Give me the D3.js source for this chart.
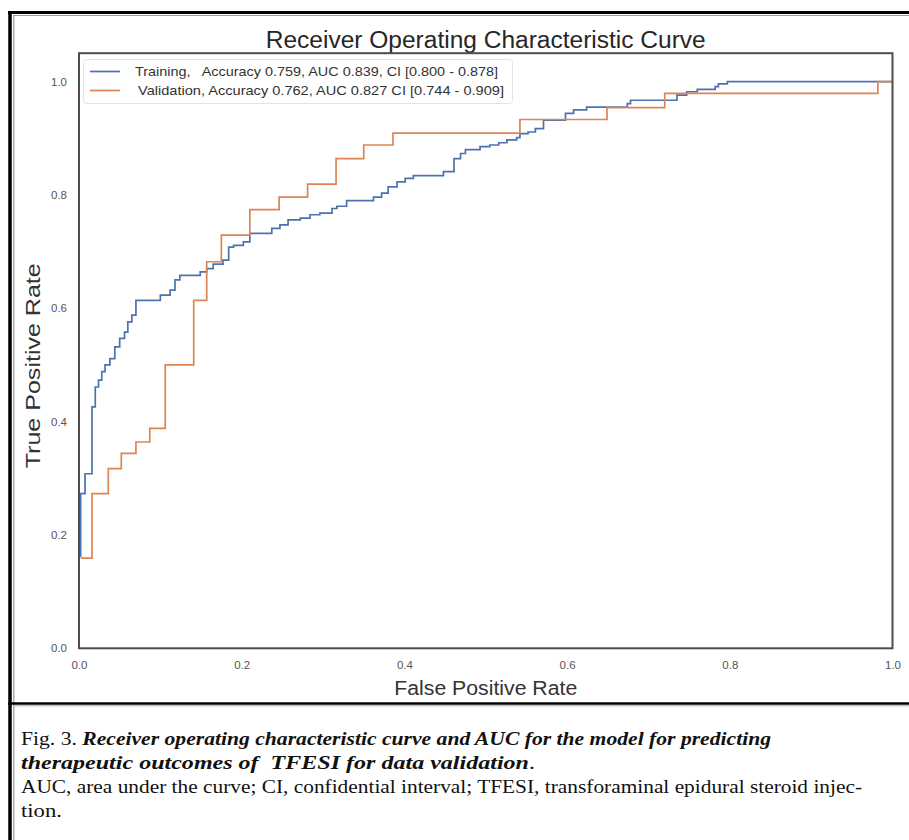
<!DOCTYPE html>
<html>
<head>
<meta charset="utf-8">
<script src="https://cdn.jsdelivr.net/npm/d3@7/dist/d3.min.js"></script>
<style>
  html, body { margin: 0; padding: 0; background: #fff; }
  svg { display: block; }
  text { white-space: pre; }
</style>
</head>
<body>
<svg id="chart" width="909" height="840"></svg>
<script>
// ---- Data ----
const titleText = "Receiver Operating Characteristic Curve";
const xLabel = "False Positive Rate";
const yLabel = "True Positive Rate";
const tickValues = [0, 0.2, 0.4, 0.6, 0.8, 1.0];
const tickLabels = ["0.0", "0.2", "0.4", "0.6", "0.8", "1.0"];
const seriesNames = [
  "Training,   Accuracy 0.759, AUC 0.839, CI [0.800 - 0.878]",
  "Validation, Accuracy 0.762, AUC 0.827 CI [0.744 - 0.909]"
];
// Training ROC: false positive rate / true positive rate (step corners)
const trainFPR = [0.002,0.002,0.0074,0.016,0.020,0.024,0.028,0.032,0.038,0.044,0.050,0.056,0.060,0.065,0.070,
  0.100,0.112,0.118,0.124,0.149,0.157,0.165,0.177,0.184,0.190,0.202,0.210,0.237,0.247,0.257,0.272,0.284,0.296,
  0.311,0.317,0.329,0.362,0.372,0.380,0.391,0.401,0.411,0.448,0.461,0.469,0.475,0.493,0.505,0.516,0.526,0.538,
  0.542,0.552,0.561,0.571,0.598,0.608,0.624,0.674,0.678,0.735,0.747,0.760,0.782,0.786,0.797,1.000];
const trainTPR = [0.161,0.273,0.308,0.426,0.461,0.473,0.488,0.500,0.511,0.532,0.547,0.558,0.576,0.588,0.614,
  0.623,0.632,0.650,0.658,0.664,0.670,0.678,0.685,0.708,0.711,0.717,0.732,0.741,0.747,0.756,0.759,0.765,0.768,
  0.776,0.780,0.790,0.796,0.803,0.814,0.823,0.829,0.834,0.841,0.864,0.873,0.880,0.885,0.888,0.892,0.897,0.901,
  0.908,0.911,0.917,0.932,0.944,0.950,0.955,0.961,0.967,0.976,0.982,0.986,0.991,0.996,1.000,1.000];
// Validation ROC
const validFPR = [0.002,0.016,0.036,0.052,0.070,0.087,0.106,0.141,0.157,0.175,0.210,0.246,0.281,0.316,0.350,
  0.386,0.542,0.649,0.720,0.982,1.000];
const validTPR = [0.159,0.273,0.317,0.344,0.364,0.388,0.500,0.614,0.682,0.729,0.774,0.796,0.819,0.864,0.888,
  0.909,0.933,0.954,0.979,1.000,1.000];
const seriesColors = ["#4c72b0", "#dd8452"];

const captionLines = [
  [{t: "Fig. 3. ", s: "normal", w: "normal"}, {t: "Receiver operating characteristic curve and AUC for the model for predicting", s: "italic", w: "bold"}],
  [{t: "therapeutic outcomes of  TFESI for data validation", s: "italic", w: "bold"}, {t: ".", s: "normal", w: "normal"}],
  [{t: "AUC, area under the curve; CI, confidential interval; TFESI, transforaminal epidural steroid injec-", s: "normal", w: "normal"}],
  [{t: "tion.", s: "normal", w: "normal"}]
];
const captionWidths = [750, 514, 841, 41];

// ---- Layout ----
const svg = d3.select("#chart");
const FONT = "Liberation Sans, Arial, sans-serif";
const plot = {left: 79, right: 892.5, top: 53.2, bottom: 648.3};
const x = d3.scaleLinear().domain([0, 1]).range([plot.left, plot.right]);
const y = d3.scaleLinear().domain([0, 1.05]).range([plot.bottom, plot.top]);

// outer figure frame
svg.append("line").attr("x1", 10).attr("x2", 10).attr("y1", 11).attr("y2", 840)
  .attr("stroke", "#000").attr("stroke-width", 3.5);
svg.append("line").attr("x1", 8).attr("x2", 909).attr("y1", 12.5).attr("y2", 12.5)
  .attr("stroke", "#000").attr("stroke-width", 3);
svg.append("line").attr("x1", 13.8).attr("x2", 13.8).attr("y1", 15).attr("y2", 840)
  .attr("stroke", "#999").attr("stroke-width", 1.2);
svg.append("line").attr("x1", 13.8).attr("x2", 909).attr("y1", 15.5).attr("y2", 15.5)
  .attr("stroke", "#999").attr("stroke-width", 1.2);
svg.append("line").attr("x1", 8).attr("x2", 909).attr("y1", 703.5).attr("y2", 703.5)
  .attr("stroke", "#000").attr("stroke-width", 2.4);
svg.append("line").attr("x1", 13.8).attr("x2", 909).attr("y1", 705.8).attr("y2", 705.8)
  .attr("stroke", "#aaa").attr("stroke-width", 1);

// title
svg.append("text").attr("x", (plot.left + plot.right) / 2).attr("y", 48)
  .attr("text-anchor", "middle").attr("font-family", FONT)
  .attr("font-size", 23).attr("fill", "#262626")
  .attr("textLength", 440).attr("lengthAdjust", "spacingAndGlyphs").text(titleText);

// axes
const xAxis = d3.axisBottom(x).tickValues(tickValues).tickFormat((d, i) => tickLabels[i]).tickSize(0).tickPadding(13);
const yAxis = d3.axisLeft(y).tickValues(tickValues).tickFormat((d, i) => tickLabels[i]).tickSize(0).tickPadding(12);
const gx = svg.append("g").attr("transform", `translate(0,${plot.bottom})`).call(xAxis);
const gy = svg.append("g").attr("transform", `translate(${plot.left},0)`).call(yAxis);
[gx, gy].forEach(g => {
  g.select(".domain").remove();
  g.selectAll("text").attr("font-family", FONT)
    .attr("font-size", 11.5).attr("fill", "#555");
});

// axis labels
svg.append("text").attr("x", (plot.left + plot.right) / 2).attr("y", 695)
  .attr("text-anchor", "middle").attr("font-family", FONT)
  .attr("font-size", 19.5).attr("fill", "#333")
  .attr("textLength", 183).attr("lengthAdjust", "spacingAndGlyphs").text(xLabel);
svg.append("text").attr("transform", `translate(40,${(plot.top + plot.bottom) / 2 + 15}) rotate(-90)`)
  .attr("text-anchor", "middle").attr("font-family", FONT)
  .attr("font-size", 19.5).attr("fill", "#333")
  .attr("textLength", 205).attr("lengthAdjust", "spacingAndGlyphs").text(yLabel);

// curves
const line = d3.line().x(d => x(d[0])).y(d => y(d[1])).curve(d3.curveStepAfter);
const trainPts = trainFPR.map((f, i) => [f, trainTPR[i]]);
const validPts = validFPR.map((f, i) => [f, validTPR[i]]);
svg.append("path").datum(trainPts).attr("d", line).attr("fill", "none")
  .attr("stroke", seriesColors[0]).attr("stroke-width", 1.7);
svg.append("path").datum(validPts).attr("d", line).attr("fill", "none")
  .attr("stroke", seriesColors[1]).attr("stroke-width", 1.7);

// frame
svg.append("rect").attr("x", plot.left).attr("y", plot.top)
  .attr("width", plot.right - plot.left).attr("height", plot.bottom - plot.top)
  .attr("fill", "none").attr("stroke", "#4d4d4d").attr("stroke-width", 2);

// legend
const legendTextLen = [363, 366];
const lg = svg.append("g");
lg.append("rect").attr("x", 83.5).attr("y", 59.5).attr("width", 429).attr("height", 44).attr("rx", 3)
  .attr("fill", "#fff").attr("fill-opacity", 0.85).attr("stroke", "#e4e4e4");
seriesNames.forEach((name, i) => {
  const yy = 71.5 + i * 19;
  lg.append("line").attr("x1", 90).attr("x2", 120).attr("y1", yy).attr("y2", yy)
    .attr("stroke", seriesColors[i]).attr("stroke-width", 1.7);
  lg.append("text").attr("x", i === 0 ? 135 : 138).attr("y", yy + 4.8)
    .attr("font-family", FONT).attr("font-size", 13.5)
    .attr("textLength", legendTextLen[i]).attr("lengthAdjust", "spacingAndGlyphs")
    .attr("fill", "#333").text(name);
});

// caption
const capY = [745, 769, 793, 817];
captionLines.forEach((parts, i) => {
  const t = svg.append("text").attr("x", 21).attr("y", capY[i])
    .attr("font-family", "Liberation Serif, Times New Roman, serif").attr("font-size", 19.5)
    .attr("fill", "#111").attr("textLength", captionWidths[i]).attr("lengthAdjust", "spacingAndGlyphs");
  parts.forEach(p => t.append("tspan").attr("font-style", p.s).attr("font-weight", p.w).text(p.t));
});
</script>
</body>
</html>
